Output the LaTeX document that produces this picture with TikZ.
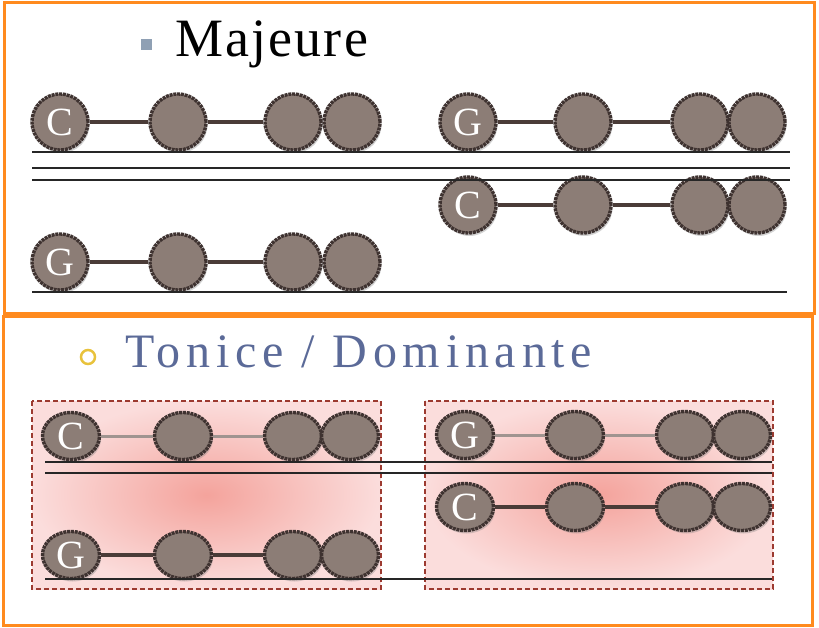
\documentclass[tikz,border=0pt]{standalone}
\usepackage{fontspec}
\setmainfont{Liberation Serif}
\usetikzlibrary{positioning,shapes.geometric,shadows}
\definecolor{frame}{HTML}{FF8A1E}
\definecolor{nfill}{HTML}{8C7D76}
\definecolor{nedge}{HTML}{3E3230}
\definecolor{lnk}{HTML}{4A3C38}
\definecolor{lnkl}{HTML}{A09490}
\definecolor{titl}{HTML}{5B6A98}
\definecolor{boxin}{HTML}{F4A39C}
\definecolor{boxout}{HTML}{FBDDDC}
\definecolor{boxedge}{HTML}{9C3A30}
\definecolor{bulsq}{HTML}{8FA0B4}
\definecolor{bulci}{HTML}{E8C23C}

\begin{document}
\begin{tikzpicture}[x=1pt,y=-1pt,
 nt/.style={circle,draw=nedge,fill=nfill,line width=3.4pt,dash pattern=on 3pt off 0.8pt,minimum size=56pt,inner sep=0pt,text=white,font=\fontsize{40}{40}\selectfont,drop shadow={shadow xshift=1.5pt,shadow yshift=-3pt,opacity=.35}},
 ne/.style={nt,ellipse,minimum width=57pt,minimum height=47pt},
 st/.style={line width=2.8pt,black!85},
 lk/.style={line width=3.6pt,lnk},
 lkl/.style={line width=3pt,lnkl},
 fr/.style={draw=frame,line width=3pt},
 bx/.style={draw=boxedge,dash pattern=on 5pt off 3pt,line width=1.6pt,inner color=boxin,outer color=boxout}]
\useasboundingbox (0,0) rectangle (819,628);
% frames and shaded groups
\draw[fr] (4,3) rectangle (814,313);
\draw[fr] (3,316) rectangle (812,625);
\draw[bx] (32,401) rectangle (381,589);
\draw[bx] (425,401) rectangle (773,589);
% titles
\node[anchor=base west,inner sep=0pt,font=\fontsize{54}{54}\selectfont\addfontfeature{LetterSpace=4}] (maj) at (175,57) {Majeure};
\node[fill=bulsq,minimum size=11pt,inner sep=0pt] (majb) at (146,45) {};
\node[anchor=base west,inner sep=0pt,text=titl,font=\fontsize{48}{48}\selectfont\addfontfeature{LetterSpace=12}] (tdm) at (125,367) {Tonice / Dominante};
\node[circle,draw=bulci,line width=2.5pt,minimum size=14pt,inner sep=0pt] (tdmb) at (88,357) {};
% note rows
\foreach \r/\y/\l/\s/\k/\xa/\xb/\xc/\xd in {a/122/C/nt/lk/60/178/293/352,b/122/G/nt/lk/468/583/700/757,c/205/C/nt/lk/468/583/700/757,d/262/G/nt/lk/60/178/293/352,e/436/C/ne/lkl/71/183/293/350,f/555/G/ne/lk/71/183/293/350,g/435/G/ne/lkl/465/575/685/742,h/507/C/ne/lk/465/575/685/742}{
 \node[\s] (\r1) at (\xa,\y) {\l};
 \node[\s] (\r2) at (\xb,\y) {};
 \node[\s] (\r3) at (\xc,\y) {};
 \node[\s] (\r4) at (\xd,\y) {};
 \draw[\k] (\r1)--(\r2) (\r2)--(\r3);
}
% staff lines
\foreach \y/\a/\b in {152/32/790,168/32/790,180/32/790,292/32/787,462/45/772,473/45/772,579/45/772}
 \draw[st] (\a,\y)--(\b,\y);
\end{tikzpicture}
\end{document}
